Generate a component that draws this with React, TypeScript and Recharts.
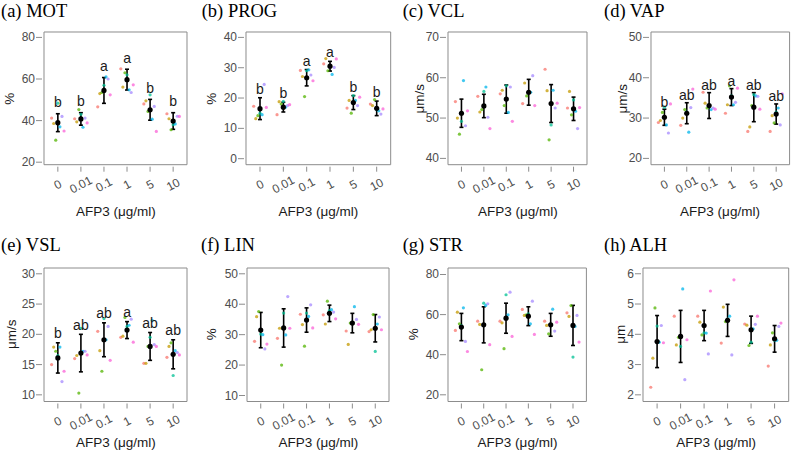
import { ScatterChart, Scatter, XAxis, YAxis, ErrorBar, ReferenceArea } from "recharts";

// AFP3 dose levels (x categories)
const doses = ["0", "0.01", "0.1", "1", "5", "10"];

// replicate colours (ggplot hue palette) and their dodge offsets within a category
const repColors = ["#F8766D", "#C49A00", "#53B400", "#00C094", "#00B6EB", "#A58AFF", "#FB61D7"];
const repOffsets = [-0.27, -0.18, -0.09, 0, 0.09, 0.18, 0.27];

// each row = one dose, 7 replicate values in colour order
const motPts = [
  [41.2, 38.6, 30.6, 48.4, 37, 42, 35],
  [40.9, 39.4, 45.3, 43, 36.8, 41.2, 38.9],
  [46.6, 53, 53.5, 57, 61, 60, 52.4],
  [64.9, 56.1, 63, 62, 54.8, 53.5, 57.2],
  [48, 49.5, 44.4, 52.4, 40.7, 46.8, 34.8],
  [43.3, 40.9, 35.6, 38, 38.4, 42.1, 42],
];
const motMean = [39, 40.8, 54.5, 59.7, 45.2, 39.8];
const motErr = [4.3, 3, 6.2, 5, 5, 4];
const motLetters = ["b", "b", "a", "a", "b", "b"];

const progPts = [
  [17.3, 13.2, 14.2, 15, 14.5, 24.5, 16.9],
  [14.5, 18.8, 18, 18.9, 17, 17.5, 17.8],
  [29.1, 27.1, 20.5, 29, 29.3, 27.6, 25.7],
  [31.3, 33, 29, 30.5, 27.8, 30.1, 32.9],
  [16.7, 19.2, 15, 20.8, 19.2, 17.5, 20.3],
  [18, 17.5, 19.5, 16.2, 15.8, 14.7, 16.4],
];
const progMean = [16.5, 17, 26.7, 30.5, 18.5, 16.6];
const progErr = [3.6, 1.6, 2.7, 1.6, 2.3, 2.4];
const progLetters = ["b", "b", "a", "a", "b", "b"];

const vclPts = [
  [54.1, 50, 46, 49.2, 59.3, 48.1, 51.8],
  [55.4, 51.5, 52.1, 56.6, 57.7, 50.2, 47.4],
  [56, 56.9, 53.1, 58, 51.4, 57.7, 49.2],
  [53.6, 58.7, 55.5, 56.4, 56.4, 60.5, 53.1],
  [62.1, 56.8, 44.6, 48.3, 56.9, 52.5, 53.7],
  [52.5, 56.6, 50.8, 54.5, 51.7, 47.4, 52.6],
];
const vclMean = [51.2, 53, 54.7, 56.4, 53.6, 52.3];
const vclErr = [3.5, 2.9, 3.5, 3.2, 4.7, 2.9];

const vapPts = [
  [28.9, 29.4, 31.4, 32.7, 28.3, 26.3, 33.5],
  [28.2, 30, 32.1, 31.5, 26.5, 32.6, 37.2],
  [36.4, 33.7, 32.5, 32.8, 32.1, 32.5, 32.2],
  [31.2, 33.3, 38, 35.5, 33.3, 33.9, 37.4],
  [26.7, 27.8, 33.1, 35.8, 35.5, 35.4, 32.2],
  [26.7, 30.6, 28.8, 31.5, 32.5, 28.3, 36],
];
const vapMean = [30.2, 31.2, 33.1, 35.2, 32.7, 31];
const vapErr = [2, 2.6, 3.2, 2.1, 3.6, 2.5];
const vapLetters = ["b", "ab", "ab", "a", "ab", "ab"];

const vslPts = [
  [15, 17.9, 17.2, 16.5, 17.9, 12.2, 13.9],
  [16, 16.5, 10.3, 21, 17.2, 17.2, 16.6],
  [20.5, 17.3, 13.9, 22.6, 19.1, 21.3, 15.7],
  [19.5, 19.7, 22.8, 21.3, 21.5, 22.5, 18.7],
  [15.2, 15.2, 18, 19.5, 22.3, 18.3, 18],
  [16.2, 18, 18.6, 13.2, 17.3, 17, 16.6],
];
const vslMean = [16.1, 16.9, 19.1, 20.7, 18, 16.7];
const vslErr = [2.5, 3.1, 2.8, 1.4, 2.3, 2.4];
const vslLetters = ["b", "ab", "ab", "a", "ab", "ab"];

const linPts = [
  [27.8, 35.9, 37.6, 30.2, 30, 25.3, 26.9],
  [28.8, 32.1, 20, 37.1, 29.9, 42.5, 32.1],
  [36.7, 33.3, 26.2, 37.1, 36, 39.8, 32.2],
  [36.5, 33.5, 41, 37.9, 38.2, 37.4, 35.2],
  [31.2, 26.8, 33.8, 34, 39.2, 35, 33.4],
  [31, 31.6, 36.6, 24.5, 33.5, 35.8, 31.6],
];
const linMean = [31.5, 32.2, 34.8, 37, 33.8, 32.1];
const linErr = [5.8, 6.3, 4, 2.7, 3.2, 4.5];

const strPts = [
  [52.1, 61.2, 55.4, 54.5, 63.4, 46.6, 41.6],
  [56.7, 55.1, 32.5, 65.7, 64.6, 65.4, 45],
  [56.7, 55.9, 43, 69.9, 59.9, 71.2, 49.1],
  [62.6, 59.6, 59.9, 60.4, 55.4, 66.7, 50.1],
  [56.7, 54.6, 50.4, 55, 62.7, 51.8, 56.2],
  [60.9, 59.1, 64.5, 38.8, 54.1, 59.6, 46.3],
];
const strMean = [53.8, 54.9, 58.2, 59.2, 54.9, 54.6];
const strErr = [6.8, 9, 7.5, 4.7, 5.7, 10];

const alhPts = [
  [2.25, 3.21, 4.87, 4.27, 3.74, 4.29, 3.72],
  [4.6, 3.65, 3.9, 3.6, 5.5, 2.5, 3.82],
  [4.6, 4.4, 3.98, 4.05, 4.04, 3.35, 5.43],
  [3.71, 4.9, 4.42, 4.5, 4.6, 3.32, 5.8],
  [4.34, 4.3, 3.63, 3.74, 4.18, 4.33, 4.6],
  [2.95, 3.65, 4.05, 3.8, 3.8, 4.26, 4.37],
];
const alhMean = [3.76, 3.93, 4.29, 4.46, 4.15, 3.85];
const alhErr = [0.86, 0.86, 0.5, 0.53, 0.45, 0.44];

const SANS = "'Liberation Sans', Arial, sans-serif";
const SERIF = "'Liberation Serif', 'Times New Roman', serif";
const GREY = "#8c8c8c";

const panels = [
  { title: "(a) MOT", yLabel: "%", ticks: [20, 40, 60, 80], domain: [18.8, 82.6], pts: motPts, mean: motMean, err: motErr, letters: motLetters, gap: 6.5, box: { L: 44.3, T: 32.3, R: 187.3, B: 165 }, tx: 1, ylx: 10 },
  { title: "(b) PROG", yLabel: "%", ticks: [0, 10, 20, 30, 40], domain: [-1.98, 41.78], pts: progPts, mean: progMean, err: progErr, letters: progLetters, gap: 4, box: { L: 246, T: 32.3, R: 390.7, B: 165 }, tx: 201.7, ylx: 211.7 },
  { title: "(c) VCL", yLabel: "μm/s", ticks: [40, 50, 60, 70], domain: [38.44, 71.34], pts: vclPts, mean: vclMean, err: vclErr, letters: null, gap: 0, box: { L: 448.3, T: 32.3, R: 587.3, B: 165 }, tx: 402.7, ylx: 420 },
  { title: "(d) VAP", yLabel: "μm/s", ticks: [20, 30, 40, 50], domain: [18.44, 51.34], pts: vapPts, mean: vapMean, err: vapErr, letters: vapLetters, gap: 2.5, box: { L: 650.7, T: 32.3, R: 789.3, B: 165 }, tx: 604, ylx: 622.7 },
  { title: "(e) VSL", yLabel: "μm/s", ticks: [10, 15, 20, 25, 30], domain: [8.9, 30.96], pts: vslPts, mean: vslMean, err: vslErr, letters: vslLetters, gap: 4.7, box: { L: 44.3, T: 267.5, R: 187.3, B: 401 }, tx: 1, ylx: 11.7 },
  { title: "(f) LIN", yLabel: "%", ticks: [10, 20, 30, 40, 50], domain: [8.03, 51.9], pts: linPts, mean: linMean, err: linErr, letters: null, gap: 0, box: { L: 247.3, T: 267.5, R: 389.3, B: 401 }, tx: 201, ylx: 211.7 },
  { title: "(g) STR", yLabel: "%", ticks: [20, 40, 60, 80], domain: [16.66, 83.24], pts: strPts, mean: strMean, err: strErr, letters: null, gap: 0, box: { L: 448.3, T: 267.5, R: 586.7, B: 401 }, tx: 402.7, ylx: 413.3 },
  { title: "(h) ALH", yLabel: "μm", ticks: [2, 3, 4, 5, 6], domain: [1.78, 6.19], pts: alhPts, mean: alhMean, err: alhErr, letters: null, gap: 0, box: { L: 643.3, T: 267.5, R: 789, B: 401 }, tx: 604, ylx: 620 },
];

const PAD_L = 50, PAD_T = 4, PAD_R = 4, PAD_B = 50;

function XTick(props: any) {
  const { x, y, payload } = props;
  const cy = y + 20;
  return (
    <g>
      <line x1={x} x2={x} y1={y + 2} y2={y + 7} stroke={GREY} />
      <text x={x} y={cy} transform={`rotate(-28 ${x} ${cy})`} textAnchor="middle" dominantBaseline="central" fontSize={12} fill="#4d4d4d" fontFamily={SANS}>
        {doses[payload.value]}
      </text>
    </g>
  );
}

function YTick(props: any) {
  const { x, y, payload } = props;
  return (
    <g>
      <line x1={x - 8} x2={x - 2} y1={y} y2={y} stroke={GREY} />
      <text x={x - 9} y={y} textAnchor="end" dominantBaseline="central" fontSize={12} fill="#4d4d4d" fontFamily={SANS}>
        {payload.value}
      </text>
    </g>
  );
}

function Panel({ p }: { p: any }) {
  const { L, T, R, B } = p.box;
  const w = R - L + PAD_L + PAD_R;
  const h = B - T + PAD_T + PAD_B;
  const reps = repColors.map((color, c) => ({
    color,
    data: p.pts.map((vals: number[], i: number) => ({ x: i + repOffsets[c], y: vals[c] })),
  }));
  const means = p.mean.map((m: number, i: number) => ({ x: i, y: m, err: p.err[i] }));
  const letters = p.letters
    ? p.letters.map((l: string, i: number) => ({ x: i, y: p.mean[i] + p.err[i], letter: l }))
    : [];
  return (
    <div style={{ position: "absolute", left: L - PAD_L, top: T - PAD_T }}>
      <ScatterChart width={w} height={h} margin={{ top: PAD_T, right: PAD_R, left: 0, bottom: 0 }}>
        <XAxis type="number" dataKey="x" domain={[-0.6, 5.6]} ticks={[0, 1, 2, 3, 4, 5]} interval={0}
          tick={(tp: any) => <XTick {...tp} />} tickLine={false} axisLine={false} tickSize={0} tickMargin={0}
          height={PAD_B} allowDataOverflow />
        <YAxis type="number" dataKey="y" domain={p.domain} ticks={p.ticks} interval={0}
          tick={(tp: any) => <YTick {...tp} />} tickLine={false} axisLine={false} tickSize={0} tickMargin={0}
          width={PAD_L} allowDataOverflow />
        <ReferenceArea x1={-0.6} x2={5.6} y1={p.domain[0]} y2={p.domain[1]} fill="none" stroke={GREY} ifOverflow="visible" />
        {reps.map((r, c) => (
          <Scatter key={c} data={r.data} isAnimationActive={false}
            shape={(sp: any) => <circle cx={sp.cx} cy={sp.cy} r={1.6} fill={r.color} fillOpacity={0.75} />} />
        ))}
        <Scatter data={means} isAnimationActive={false}
          shape={(sp: any) => <circle cx={sp.cx} cy={sp.cy} r={2.6} fill="#000" />}>
          <ErrorBar dataKey="err" direction="y" width={2} stroke="#000" strokeWidth={1.6} isAnimationActive={false} />
        </Scatter>
        {letters.length > 0 && (
          <Scatter data={letters} isAnimationActive={false}
            shape={(sp: any) => (
              <text x={sp.cx} y={sp.cy - p.gap} textAnchor="middle" fontSize={14} fill="#1a1a1a" fontFamily={SANS}>
                {sp.payload.letter}
              </text>
            )} />
        )}
      </ScatterChart>
    </div>
  );
}

export default function App() {
  return (
    <div style={{ position: "absolute", left: 0, top: 0, width: 791, height: 451, overflow: "hidden", background: "#fff" }}>
      {panels.map((p, i) => (
        <Panel key={i} p={p} />
      ))}
      <svg width={791} height={451} style={{ position: "absolute", left: 0, top: 0, pointerEvents: "none" }}>
        {panels.map((p, i) => {
          const row2 = p.box.T > 200;
          const cy = (p.box.T + p.box.B) / 2;
          const cx = (p.box.L + p.box.R) / 2;
          return (
            <g key={i}>
              <text x={p.tx} y={row2 ? 251 : 16.5} fontSize={18.5} fontFamily={SERIF} fill="#000">{p.title}</text>
              <text x={p.ylx} y={cy} transform={`rotate(-90 ${p.ylx} ${cy})`} textAnchor="middle" dominantBaseline="central" fontSize={13.5} fontFamily={SANS} fill="#1a1a1a">{p.yLabel}</text>
              <text x={cx} y={row2 ? 446.5 : 216} textAnchor="middle" fontSize={13.5} fontFamily={SANS} fill="#1a1a1a">AFP3 (μg/ml)</text>
            </g>
          );
        })}
      </svg>
    </div>
  );
}
